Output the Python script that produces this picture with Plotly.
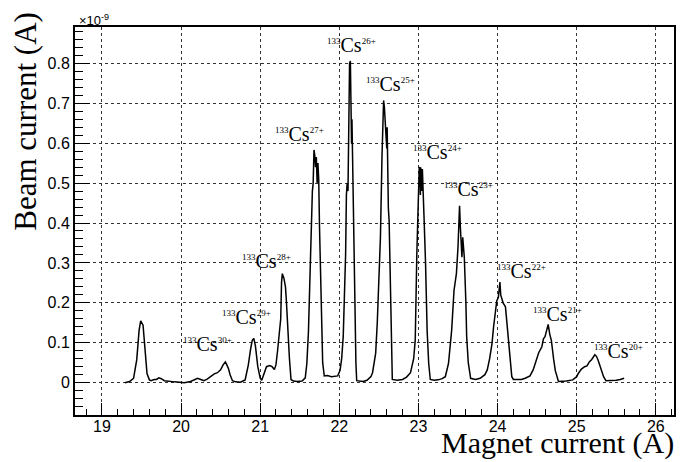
import plotly.graph_objects as go

# Magnet current (A)
magnet_current = [
    19.29, 19.35, 19.40, 19.44, 19.47, 19.49, 19.52, 19.54, 19.57, 19.60, 19.62, 19.66, 19.69, 19.72,
    19.75, 19.79, 19.85, 19.92, 19.98, 20.04, 20.12, 20.18, 20.21, 20.25, 20.29, 20.33, 20.37, 20.42,
    20.46, 20.50, 20.53, 20.56, 20.58, 20.60, 20.62, 20.65, 20.69, 20.75, 20.81, 20.85, 20.88, 20.90,
    20.92, 20.94, 20.97, 21.00, 21.02, 21.05, 21.08, 21.12, 21.15, 21.18, 21.20, 21.22, 21.24, 21.25,
    21.26, 21.27, 21.28, 21.30, 21.32, 21.33, 21.35, 21.37, 21.39, 21.42, 21.47, 21.53, 21.57, 21.59,
    21.61, 21.63, 21.65, 21.66, 21.67, 21.68, 21.69, 21.70, 21.71, 21.72, 21.73, 21.74, 21.75, 21.76,
    21.78, 21.79, 21.81, 21.85, 21.90, 21.95, 21.98, 22.01, 22.03, 22.05, 22.07, 22.08, 22.09, 22.10,
    22.11, 22.12, 22.13, 22.14, 22.15, 22.155, 22.16, 22.165, 22.17, 22.18, 22.19, 22.20, 22.21, 22.22,
    22.25, 22.30, 22.35, 22.40, 22.42, 22.44, 22.46, 22.48, 22.50, 22.52, 22.54, 22.55, 22.56, 22.57,
    22.58, 22.59, 22.60, 22.605, 22.61, 22.62, 22.63, 22.64, 22.65, 22.66, 22.67, 22.73, 22.80, 22.85,
    22.90, 22.94, 22.96, 22.98, 23.00, 23.01, 23.02, 23.025, 23.03, 23.04, 23.05, 23.06, 23.07, 23.09,
    23.10, 23.11, 23.13, 23.15, 23.20, 23.25, 23.30, 23.34, 23.38, 23.42, 23.45, 23.48, 23.50, 23.51,
    23.52, 23.53, 23.54, 23.55, 23.56, 23.57, 23.58, 23.60, 23.61, 23.63, 23.66, 23.72, 23.78, 23.84,
    23.87, 23.90, 23.93, 23.95, 23.97, 23.99, 24.01, 24.02, 24.03, 24.04, 24.05, 24.07, 24.10, 24.12,
    24.14, 24.16, 24.18, 24.20, 24.30, 24.35, 24.41, 24.45, 24.49, 24.52, 24.56, 24.58, 24.60, 24.62,
    24.64, 24.66, 24.68, 24.71, 24.73, 24.77, 24.87, 24.95, 25.00, 25.02, 25.06, 25.10, 25.13, 25.16,
    25.19, 25.23, 25.25, 25.27, 25.29, 25.31, 25.34, 25.37, 25.45, 25.50, 25.55, 25.60,
]

# Beam current (units of 1e-9 A)
beam_current = [
    0.000, 0.003, 0.011, 0.057, 0.131, 0.155, 0.144, 0.090, 0.023, 0.007, 0.005, 0.008, 0.008, 0.012,
    0.010, 0.005, 0.003, 0.002, 0.001, 0.000, 0.003, 0.008, 0.011, 0.008, 0.005, 0.009, 0.015, 0.022,
    0.025, 0.032, 0.044, 0.052, 0.044, 0.035, 0.020, 0.005, 0.002, 0.001, 0.007, 0.044, 0.085, 0.106,
    0.111, 0.092, 0.040, 0.012, 0.006, 0.025, 0.040, 0.043, 0.040, 0.033, 0.045, 0.080, 0.125, 0.156,
    0.160, 0.250, 0.273, 0.262, 0.240, 0.210, 0.130, 0.060, 0.008, 0.004, 0.003, 0.004, 0.012, 0.048,
    0.127, 0.300, 0.448, 0.480, 0.500, 0.583, 0.570, 0.540, 0.565, 0.500, 0.550, 0.510, 0.390, 0.281,
    0.120, 0.050, 0.017, 0.018, 0.015, 0.016, 0.017, 0.031, 0.060, 0.116, 0.240, 0.322, 0.471, 0.500,
    0.480, 0.653, 0.800, 0.806, 0.650, 0.600, 0.660, 0.590, 0.620, 0.450, 0.300, 0.150, 0.050, 0.005,
    0.004, 0.003, 0.006, 0.015, 0.025, 0.045, 0.074, 0.150, 0.240, 0.364, 0.570, 0.650, 0.707, 0.690,
    0.653, 0.620, 0.587, 0.640, 0.560, 0.438, 0.405, 0.300, 0.157, 0.050, 0.008, 0.006, 0.008, 0.014,
    0.025, 0.060, 0.107, 0.322, 0.488, 0.537, 0.540, 0.470, 0.539, 0.480, 0.535, 0.455, 0.420, 0.300,
    0.200, 0.131, 0.048, 0.008, 0.006, 0.007, 0.010, 0.015, 0.048, 0.131, 0.231, 0.273, 0.339, 0.400,
    0.443, 0.390, 0.330, 0.314, 0.364, 0.340, 0.314, 0.200, 0.115, 0.050, 0.011, 0.008, 0.011, 0.020,
    0.032, 0.060, 0.098, 0.140, 0.181, 0.205, 0.214, 0.230, 0.252, 0.220, 0.214, 0.200, 0.190, 0.150,
    0.098, 0.060, 0.015, 0.008, 0.008, 0.011, 0.017, 0.032, 0.057, 0.075, 0.090, 0.110, 0.115, 0.130,
    0.146, 0.121, 0.106, 0.057, 0.030, 0.003, 0.004, 0.007, 0.015, 0.023, 0.034, 0.040, 0.042, 0.052,
    0.058, 0.070, 0.066, 0.057, 0.045, 0.030, 0.015, 0.005, 0.005, 0.006, 0.008, 0.011,
]

# Peak labels
isotopes = ["133"] * 11
charge_states = ["30+", "29+", "28+", "27+", "26+", "25+", "24+", "23+", "22+", "21+", "20+"]
label_x = [20.33, 20.83, 21.08, 21.50, 22.15, 22.65, 23.24, 23.63, 24.30, 24.76, 25.53]
label_y = [0.090, 0.156, 0.298, 0.615, 0.838, 0.740, 0.571, 0.477, 0.271, 0.165, 0.072]

x_ticks = [19, 20, 21, 22, 23, 24, 25, 26]
y_ticks = [0, 0.1, 0.2, 0.3, 0.4, 0.5, 0.6, 0.7, 0.8]
y_tick_text = ["0", "0.1", "0.2", "0.3", "0.4", "0.5", "0.6", "0.7", "0.8"]

fig = go.Figure()
fig.add_trace(go.Scatter(
    x=magnet_current, y=beam_current, mode="lines",
    line=dict(color="black", width=1.5), showlegend=False, hoverinfo="skip",
))

annotations = []
for iso, q, lx, ly in zip(isotopes, charge_states, label_x, label_y):
    txt = (f'<sup><span style="font-size:9px">{iso}</span></sup>Cs'
           f'<sup><span style="font-size:9px">{q}</span></sup>')
    annotations.append(dict(
        x=lx, y=ly, xref="x", yref="y", text=txt, showarrow=False,
        xanchor="center", yanchor="middle", yshift=3,
        font=dict(family="Liberation Serif", size=20, color="black"),
    ))

annotations.append(dict(
    x=0.003, y=1, xref="paper", yref="paper", text="×10<sup>-9</sup>",
    showarrow=False, xanchor="left", yanchor="bottom", yshift=-3,
    font=dict(family="Liberation Sans", size=13, color="black"),
))
annotations.append(dict(
    x=-0.083, y=1.044, xref="paper", yref="paper", text="Beam current (A)",
    showarrow=False, textangle=-90, xanchor="center", yanchor="top",
    font=dict(family="Liberation Serif", size=31, color="black"),
))
annotations.append(dict(
    x=1.004, y=-0.1211, xref="paper", yref="paper", text="Magnet current (A)",
    showarrow=False, xanchor="right", yanchor="bottom",
    font=dict(family="Liberation Serif", size=30, color="black"),
))

axis_common = dict(
    showline=True, linecolor="black", linewidth=2, mirror=True,
    ticks="inside", tickcolor="black", tickwidth=1,
    showgrid=True, gridcolor="#333333", griddash="dot", gridwidth=1,
    zeroline=False,
    tickfont=dict(family="Liberation Sans", size=16, color="black"),
)

# the page body adds an 8 px offset, so the figure is 8 px smaller than the window
fig.update_layout(
    width=677, height=454,
    margin=dict(l=67, r=9, t=19, b=47),
    paper_bgcolor="white", plot_bgcolor="white",
    xaxis=dict(range=[18.66, 26.23], tickvals=x_ticks, ticklen=12, ticklabelstandoff=-4,
               minor=dict(dtick=0.2, tick0=19, ticks="inside", ticklen=6, tickcolor="black", showgrid=False),
               **axis_common),
    yaxis=dict(range=[-0.081, 0.891], tickvals=y_ticks, ticktext=y_tick_text, ticklen=15,
               minor=dict(dtick=0.02, tick0=0, ticks="inside", ticklen=8, tickcolor="black", showgrid=False),
               **axis_common),
    annotations=annotations,
)

fig.write_html("out.html")
